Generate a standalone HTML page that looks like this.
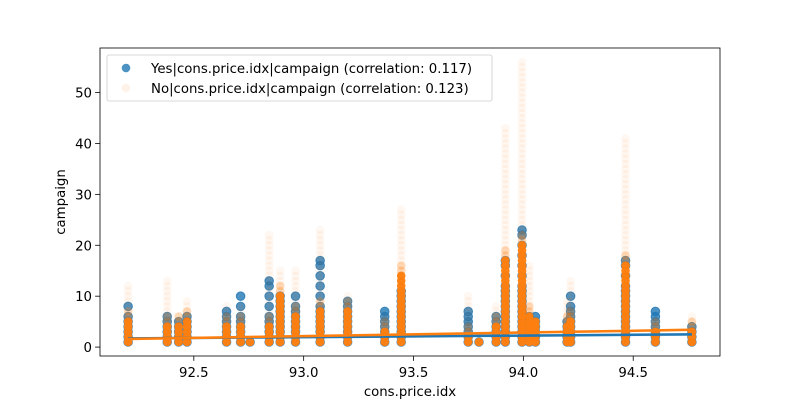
<!DOCTYPE html>
<html><head><meta charset="utf-8"><style>
body{margin:0;background:#fff;font-family:"Liberation Sans","DejaVu Sans",sans-serif}
svg text{font-family:"DejaVu Sans","Liberation Sans",sans-serif;font-size:13.3px;fill:#000}
</style></head><body>
<svg id="chart" width="800" height="400" viewBox="0 0 800 400" xmlns="http://www.w3.org/2000/svg">
<rect width="800" height="400" fill="#fff"/>
<g id="marks"></g>
<g id="axes"></g>
</svg>
<script>
const categories=[92.201,92.379,92.431,92.469,92.649,92.713,92.756,92.843,92.893,92.963,93.075,93.2,93.369,93.444,93.749,93.798,93.876,93.918,93.994,94.027,94.055,94.199,94.215,94.465,94.601,94.767];
const yesMax=[8,6,5,6,7,10,1,13,10,10,17,9,7,11,7,1,6,17,23,6,6,5,10,17,7,4];
const yesDense=[4,4,3,4,4,4,1,4,7,5,5,6,3,8,4,1,4,10,10,6,6,4,5,9,3,3];
const noMax=[12,13,6,9,8,8,1,22,15,15,23,10,6,27,10,1,8,43,56,16,5,9,13,41,5,6];
const noDense=[5,4,4,5,4,4,1,4,10,6,7,7,3,14,2,1,4,17,20,6,5,4,5,16,3,3];
const yesLine=[1.7,2.5];
const noLine=[1.6,3.4];
const yTicks=[0,10,20,30,40,50];
const xTicks=[92.5,93.0,93.5,94.0,94.5];
const L=100,R=720,T=48,B=356,x0=92.073,x1=94.895,y0=-1.75,y1=58.75;
const X=v=>L+(v-x0)/(x1-x0)*(R-L);
const Y=v=>B-(v-y0)/(y1-y0)*(B-T);
const NS="http://www.w3.org/2000/svg";
const marks=document.getElementById('marks'),axes=document.getElementById('axes');
function mk(tag,attrs,parent){const e=document.createElementNS(NS,tag);for(const k in attrs)e.setAttribute(k,attrs[k]);parent.appendChild(e);return e;}
categories.forEach((c,i)=>{for(let v=1;v<=yesMax[i];v++){
 if(v>yesDense[i]&&v<yesMax[i]&&(v%2===1&&v>yesDense[i]+2))continue;
 const e=mk('circle',{cx:X(c),cy:Y(v),r:4.3,fill:'#1f77b4','fill-opacity':0.8,stroke:'#1f77b4','stroke-opacity':0.8},marks);
 
 
}});
categories.forEach((c,i)=>{for(let v=1;v<=noMax[i];v++){
 const op=v<=noDense[i]?0.97:(v<=noDense[i]+2?0.3:0.06);
 const e=mk('circle',{cx:X(c),cy:Y(v),r:4.3,fill:'#ff7f0e','fill-opacity':op},marks);
 
 
}});
const xa=categories[0],xb=categories[categories.length-1];
[[yesLine,'#1f77b4','yes-regression-line'],[noLine,'#ff7f0e','no-regression-line']].forEach(([ln,col,nm])=>{
 const band=mk('polygon',{points:`${X(xa)},${Y(ln[0]-0.25)} ${X(xb)},${Y(ln[1]-0.3)} ${X(xb)},${Y(ln[1]+0.3)} ${X(xa)},${Y(ln[0]+0.25)}`,fill:col,'fill-opacity':0.15},marks);
 
 
 const e=mk('line',{x1:X(xa),y1:Y(ln[0]),x2:X(xb),y2:Y(ln[1]),stroke:col,'stroke-width':2.5},marks);
 
 
});
const fr=mk('rect',{x:L,y:T,width:R-L,height:B-T,fill:'none',stroke:'#000','stroke-width':0.8},axes);


xTicks.forEach(t=>{
 const l=mk('line',{x1:X(t),x2:X(t),y1:B,y2:B+4.9,stroke:'#000','stroke-width':0.8},axes);
 
 
 const tx=mk('text',{x:X(t),y:B+21,'text-anchor':'middle'},axes);tx.textContent=t.toFixed(1);
 
 
});
yTicks.forEach(t=>{
 const l=mk('line',{x1:L-4.9,x2:L,y1:Y(t),y2:Y(t),stroke:'#000','stroke-width':0.8},axes);
 
 
 const tx=mk('text',{x:L-8,y:Y(t)+5,'text-anchor':'end'},axes);tx.textContent=t;
 
 
});
</script>
<svg style="position:absolute;left:0;top:0" width="800" height="400">
<text x="410" y="396" text-anchor="middle">cons.price.idx</text>
<text transform="translate(65,202) rotate(-90)" text-anchor="middle">campaign</text>
<g>
<rect x="107" y="55" width="385" height="46" rx="2" fill="#fff" fill-opacity="0.8" stroke="#ccc" stroke-width="0.8"/>
<circle cx="126" cy="68" r="4.3" fill="#1f77b4" fill-opacity="0.8"/>
<text x="151" y="73">Yes|cons.price.idx|campaign (correlation: 0.117)</text>
<circle cx="126" cy="88" r="4.3" fill="#ff7f0e" fill-opacity="0.09"/>
<text x="151" y="93">No|cons.price.idx|campaign (correlation: 0.123)</text>
</g>
</svg>
</body></html>
